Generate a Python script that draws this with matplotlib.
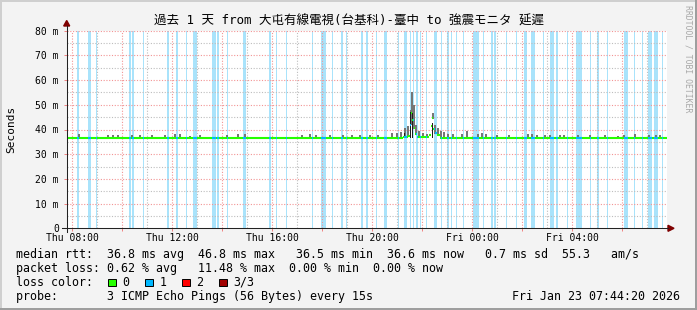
import matplotlib
matplotlib.use("Agg")
import matplotlib.pyplot as plt
import matplotlib.dates as mdates
from matplotlib.lines import Line2D
from matplotlib.patches import Polygon, Rectangle
import numpy as np
import pandas as pd

W, H = 697, 310

# ---- data (times Thu 22 / Fri 23 Jan 2026) ----
loss_start = ["08:11", "08:37", "08:57", "10:16", "10:23", "10:49", "11:47", "12:09",
              "12:33", "12:49", "13:35", "13:47", "14:11", "14:49", "15:52", "16:09",
              "16:33", "17:35", "17:57", "18:23", "18:45", "18:57", "19:33", "19:45",
              "20:09", "20:28", "21:01", "21:16", "21:30", "21:37", "21:45", "21:54",
              "22:09", "22:28", "22:45", "23:00", "23:09", "23:21", "23:37", "00:01",
              "00:09", "00:25", "00:44", "00:52", "01:21", "01:45", "02:04", "02:21",
              "02:49", "03:06", "03:21", "03:47", "04:09", "04:42", "05:00", "05:23",
              "06:04", "06:28", "06:47", "07:01", "07:16", "07:35"]
loss_minutes = [5, 7, 3, 5, 5, 3, 5, 5,
                3, 10, 10, 5, 3, 7, 5, 3,
                3, 3, 12, 3, 5, 3, 5, 5,
                3, 7, 3, 7, 3, 3, 5, 3,
                3, 7, 3, 3, 3, 3, 3, 7,
                7, 3, 5, 5, 3, 3, 7, 10,
                3, 10, 5, 3, 15, 3, 3, 3,
                10, 3, 3, 10, 10, 3]

median_times = ["07:47", "21:14", "21:25", "21:30", "21:33", "21:36", "21:39", "21:42",
                "21:47", "22:16", "22:20", "22:23", "22:26", "22:30", "22:35", "22:42"]
median_ms = [36.6, 36.9, 37.3, 42.0, 46.8, 44.0, 40.5, 38.0,
             36.8, 37.6, 41.5, 44.5, 40.2, 38.6, 37.6, 36.6]

smoke_times = ["08:16", "09:25", "09:37", "09:49", "10:23", "10:42", "11:11", "11:42",
               "12:06", "12:18", "12:42", "13:06", "14:11", "14:37", "14:54", "17:11",
               "17:30", "17:45", "18:18", "18:49", "19:11", "19:30", "19:54", "20:13",
               "20:47", "20:59", "21:08", "21:18", "21:25", "21:32", "21:35", "21:40",
               "21:45", "21:52", "22:01", "22:11", "22:21", "22:25", "22:30", "22:37",
               "22:45", "22:52", "23:01", "23:13", "23:35", "23:47", "00:13", "00:23",
               "00:33", "00:59", "01:28", "02:13", "02:23", "02:35", "02:54", "03:06",
               "03:30", "03:40", "04:13", "04:42", "05:18", "05:49", "06:04", "06:30",
               "07:04", "07:21", "07:30"]
smoke_max = [38.0, 37.7, 37.8, 37.7, 37.9, 37.6, 37.6, 37.6,
             38.1, 38.0, 37.5, 37.6, 37.6, 38.0, 38.2, 37.8,
             38.0, 37.7, 37.8, 37.6, 37.6, 37.8, 37.7, 37.9,
             38.4, 38.6, 39.1, 40.5, 41.5, 48.0, 55.3, 50.0,
             42.0, 39.5, 38.5, 38.3, 41.0, 46.7, 42.0, 40.6,
             39.5, 39.0, 38.3, 38.0, 38.2, 39.5, 38.3, 38.4,
             38.0, 37.6, 37.6, 38.2, 38.0, 37.9, 37.8, 37.8,
             37.7, 37.9, 37.6, 37.7, 37.8, 37.5, 37.9, 38.1,
             37.7, 37.8, 37.6]

dark_times = ["21:18", "21:32", "21:35", "21:37", "22:23", "22:25"]
dark_top = [38.5, 47.0, 46.8, 44.0, 42.6, 41.5]

y_ticks = [0, 10, 20, 30, 40, 50, 60, 70, 80]
y_labels = ["0", "10 m", "20 m", "30 m", "40 m", "50 m", "60 m", "70 m", "80 m"]

title = "過去 1 天 from 大屯有線電視(台基科)-臺中 to 強震モニタ 延遲"
legend_lines = [
    "median rtt:  36.8 ms avg  46.8 ms max   36.5 ms min  36.6 ms now   0.7 ms sd  55.3   am/s",
    "packet loss: 0.62 % avg   11.48 % max  0.00 % min  0.00 % now",
    "loss color:",
    "probe:       3 ICMP Echo Pings (56 Bytes) every 15s",
]
loss_labels = ["0", "1", "2", "3/3"]
loss_colors = ["#26ff00", "#00b8ff", "#ff0000", "#a00000"]
stamp = "Fri Jan 23 07:44:20 2026"

# ---- helpers ----
def tnum(hhmm):
    day = "2026-01-22" if hhmm >= "07:47" else "2026-01-23"
    return mdates.date2num(pd.Timestamp(f"{day} {hhmm}"))

x0 = tnum("07:47")
x1 = x0 + 1.0
mt = np.array([tnum(s) for s in median_times])
mv = np.array(median_ms)


def med_at(x):
    return mv[np.searchsorted(mt, x, side="right") - 1]


def fx(x):
    return x / W


def fy(y):
    return 1 - y / H


plt.rcParams["font.family"] = ["DejaVu Sans Mono", "Noto Sans CJK JP"]
fig = plt.figure(figsize=(W / 100, H / 100), dpi=100, facecolor="#f3f3f3")
ax = fig.add_axes([fx(67), fy(228.3), 600 / W, 197.6 / H])
ax.set_facecolor("white")
ax.set_xlim(x0, x1)
ax.set_ylim(0, 80)
for s in ax.spines.values():
    s.set_visible(False)

# loss background bands
for s, m in zip(loss_start, loss_minutes):
    a = tnum(s)
    ax.axvspan(a, a + m / 1440, color="#a9e3fb", lw=0, zorder=0.2)

# grid (manual, dotted)
dot = (0, (1, 1.5))
pink, grey = "#f29494", "#bdbdbd"
for h in range(0, 25):
    xv = mdates.date2num(pd.Timestamp("2026-01-22 07:00")) + h / 24
    if x0 < xv < x1:
        major = (pd.Timestamp(mdates.num2date(xv)).hour % 2 == 0)
        ax.axvline(xv, color=pink if major else grey, lw=0.8, ls=dot, zorder=0.5)
for yv in range(5, 81, 5):
    ax.axhline(yv, color=pink if yv % 10 == 0 else grey, lw=0.8, ls=dot, zorder=0.5)

# smoke
st = np.array([tnum(s) for s in smoke_times])
base = np.array([med_at(x) for x in st]) - 0.3
ax.bar(st, np.array(smoke_max) - base, bottom=base, width=5 / 1440,
       color="#767676", lw=0, zorder=2)
dt = np.array([tnum(s) for s in dark_times])
dbase = np.full(len(dt), 36.4)
ax.bar(dt, np.array(dark_top) - dbase, bottom=dbase, width=2.4 / 1440,
       color="#1e1e1e", lw=0, zorder=2.5)

# median line: green, blue where 1/3 loss (horizontal pieces only)
ends = np.append(mt[1:], x1)
ax.hlines(mv, mt, ends, color="#26ff00", lw=1.5, zorder=3)
for s, m in zip(loss_start, loss_minutes):
    a = tnum(s)
    b = a + m / 1440
    xs = [a] + [x for x in mt if a < x < b] + [b]
    ys = [med_at(x) for x in xs[:-1]]
    ax.hlines(ys, xs[:-1], xs[1:], color="#00b8ff", lw=1.5, zorder=3.2)

# ticks
ax.xaxis.set_major_locator(mdates.HourLocator(byhour=range(0, 24, 4)))
ax.xaxis.set_minor_locator(mdates.HourLocator(byhour=range(0, 24, 2)))
ax.xaxis.set_major_formatter(mdates.DateFormatter("%a %H:%M"))
ax.set_yticks(y_ticks)
ax.set_yticklabels(y_labels)
ax.tick_params(axis="x", which="both", length=2, width=0.7, color="#f08080",
               pad=1.5, labelsize=7)
ax.tick_params(axis="y", which="both", length=2, width=0.7, color="#f08080",
               pad=3.8, labelsize=7)

# axes lines and arrows
fig.add_artist(Line2D([fx(62), fx(668)], [fy(228.3), fy(228.3)], color="#222222",
                      lw=0.75, transform=fig.transFigure))
fig.add_artist(Line2D([fx(66.7), fx(66.7)], [fy(232), fy(26)], color="#222222",
                      lw=0.75, transform=fig.transFigure))
fig.add_artist(Polygon([(fx(668), fy(225.3)), (fx(674), fy(228.3)), (fx(668), fy(231.3))],
                       closed=True, color="#7f0000", transform=fig.transFigure))
fig.add_artist(Polygon([(fx(63.7), fy(26)), (fx(66.7), fy(20.5)), (fx(69.7), fy(26))],
                       closed=True, color="#7f0000", transform=fig.transFigure))

# texts
fig.text(fx(348.5), fy(21), title, ha="center", va="center", fontsize=9)
fig.text(fx(11), fy(129.5), "Seconds", rotation=90, ha="center", va="center",
         fontsize=8)
fig.text(fx(688), fy(5), "RRDTOOL / TOBI OETIKER", rotation=270, ha="center",
         va="top", fontsize=5.9, color="#a8a8a8")

for i, line in enumerate(legend_lines):
    fig.text(fx(15.5), fy(254.5 + i * 13.9), line, ha="left", va="center", fontsize=8.4)
fig.text(fx(680.5), fy(296.2), stamp, ha="right", va="center", fontsize=8.4)

for k, (lab, col) in enumerate(zip(loss_labels, loss_colors)):
    bx = 108 + k * 37
    fig.add_artist(Rectangle((fx(bx), fy(286)), 7.5 / W, 7.5 / H, facecolor=col,
                             edgecolor="black", lw=0.7, transform=fig.transFigure))
    fig.text(fx(bx + 14.5), fy(282.3), lab, ha="left", va="center", fontsize=8.4)

# frame shading
fig.add_artist(Rectangle((0, fy(2)), 1, 2 / H, color="#cfcfcf", lw=0,
                         transform=fig.transFigure))
fig.add_artist(Rectangle((0, 0), 2 / W, 1, color="#cfcfcf", lw=0,
                         transform=fig.transFigure))
fig.add_artist(Rectangle((fx(695), 0), 2 / W, 1, color="#9e9e9e", lw=0,
                         transform=fig.transFigure))
fig.add_artist(Rectangle((0, 0), 1, 2 / H, color="#9e9e9e", lw=0,
                         transform=fig.transFigure))

fig.savefig("out.png", dpi=100, facecolor=fig.get_facecolor())
